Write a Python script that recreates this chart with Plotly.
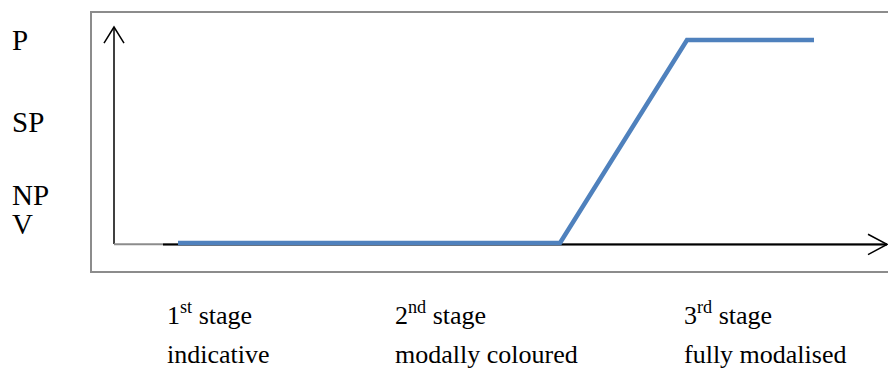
import plotly.graph_objects as go

# ---- data ----
line_x = [0.64, 4.46, 5.73, 7.0]
line_y = [0.0, 0.0, 1.0, 1.0]

level_labels = ["P", "SP", "NP", "V"]
level_values = [1.0, 0.596, 0.236, 0.094]

stage_titles = ["1<sup>st</sup> stage", "2<sup>nd</sup> stage", "3<sup>rd</sup> stage"]
stage_names = ["indicative", "modally coloured", "fully modalised"]
stage_x = [0.51, 2.79, 5.68]

# ---- styling ----
FONT = "Liberation Serif"
X_RANGE = [-0.23, 7.74]
Y_RANGE = [-0.143, 1.138]
X_TIP = 7.73
Y_TIP = 1.064

fig = go.Figure()
fig.add_trace(go.Scatter(
    x=line_x, y=line_y, mode="lines",
    line=dict(color="#4F81BD", width=4.5),
    hoverinfo="skip", showlegend=False,
))

shapes = [
    dict(type="rect", xref="paper", yref="paper", x0=0, x1=1.02, y0=0, y1=1,
         line=dict(color="#8c8c8c", width=2), layer="below"),
    dict(type="line", xref="x", yref="y", x0=0, x1=0, y0=-0.005, y1=Y_TIP,
         line=dict(color="black", width=1.5), layer="below"),
    dict(type="line", xref="x", yref="y", x0=0, x1=X_TIP, y0=-0.006, y1=-0.006,
         line=dict(color="#8c8c8c", width=2), layer="below"),
    dict(type="line", xref="x", yref="y", x0=0.49, x1=X_TIP, y0=-0.008, y1=-0.008,
         line=dict(color="black", width=2), layer="below"),
    dict(type="path", xref="x", yref="y",
         path=f"M -0.1 0.985 L 0 {Y_TIP} L 0.1 0.985",
         line=dict(color="black", width=1.5), layer="below"),
    dict(type="path", xref="x", yref="y",
         path=f"M 7.54 0.043 L {X_TIP} -0.007 L 7.54 -0.057",
         line=dict(color="black", width=1.5), layer="below"),
]

annotations = []
for lab, val in zip(level_labels, level_values):
    annotations.append(dict(
        x=-0.1016, y=val, xref="paper", yref="y", text=lab, showarrow=False,
        xanchor="left", yanchor="middle",
        font=dict(family=FONT, size=29, color="black"),
    ))
for title, name, sx in zip(stage_titles, stage_names, stage_x):
    annotations.append(dict(
        x=sx, y=-0.1615, xref="x", yref="paper", text=title, showarrow=False,
        xanchor="left", yanchor="middle",
        font=dict(family=FONT, size=26, color="black"),
    ))
    annotations.append(dict(
        x=sx, y=-0.319, xref="x", yref="paper", text=name, showarrow=False,
        xanchor="left", yanchor="middle",
        font=dict(family=FONT, size=26, color="black"),
    ))

fig.update_layout(
    width=888, height=368,
    margin=dict(l=91, r=0, t=12, b=96),
    paper_bgcolor="white", plot_bgcolor="white",
    xaxis=dict(range=X_RANGE, visible=False, fixedrange=True),
    yaxis=dict(range=Y_RANGE, visible=False, fixedrange=True),
    shapes=shapes, annotations=annotations,
    showlegend=False,
)

fig.write_html(
    "out.html",
    config={"displayModeBar": False},
    post_script="document.body.style.margin='0';document.body.style.overflow='hidden';",
)
